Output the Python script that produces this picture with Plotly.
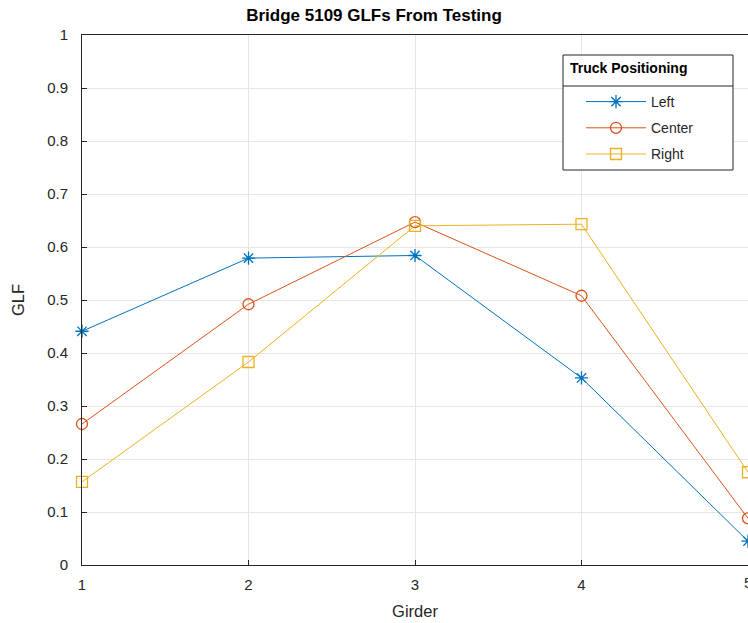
import plotly.graph_objects as go

girders = [1, 2, 3, 4, 5]
left_vals = [0.441, 0.579, 0.584, 0.353, 0.045]
center_vals = [0.266, 0.492, 0.647, 0.508, 0.088]
right_vals = [0.157, 0.383, 0.640, 0.643, 0.175]
series_names = ["Left", "Center", "Right"]
colors = ["#0072BD", "#D95319", "#EDB120"]
symbols = ["asterisk-open", "circle-open", "square-open"]
y_ticks = [0, 0.1, 0.2, 0.3, 0.4, 0.5, 0.6, 0.7, 0.8, 0.9, 1]
y_ticktext = ["0", "0.1", "0.2", "0.3", "0.4", "0.5", "0.6", "0.7", "0.8", "0.9", "1"]

W, H = 748, 623
ML, MR, MT, MB = 82, 0, 35, 58

def px(xp):
    return (xp - ML) / (W - ML - MR)

def py(yp):
    return (H - MB - yp) / (H - MT - MB)

fig = go.Figure()
for name, vals, col, sym in zip(series_names, [left_vals, center_vals, right_vals], colors, symbols):
    fig.add_trace(go.Scatter(
        x=girders, y=vals, name=name, mode="lines+markers", legendgroup=name,
        line=dict(color=col, width=1),
        marker=dict(symbol=sym, size=11, color=col, line=dict(color=col, width=1.3)),
        cliponaxis=False,
    ))

font = "Liberation Sans, Arial, Helvetica, sans-serif"
dark = "#262626"
axis_common = dict(
    showline=True, linecolor=dark, linewidth=1, mirror=True,
    ticks="inside", ticklen=5, tickcolor=dark,
    showgrid=True, gridcolor="#E6E6E6", gridwidth=1,
    zeroline=False, tickfont=dict(size=15, color=dark, family=font),
)

# legend frame
fig.add_shape(type="rect", xref="paper", yref="paper",
              x0=px(563), x1=px(733), y0=py(170), y1=py(55),
              fillcolor="white", line=dict(color=dark, width=1), layer="above")
fig.add_shape(type="line", xref="paper", yref="paper",
              x0=px(563), x1=px(733), y0=py(86), y1=py(86),
              line=dict(color=dark, width=1), layer="above")
fig.add_annotation(text="<b>Truck Positioning</b>", xref="paper", yref="paper",
                   x=px(568), y=py(68), xanchor="left", yanchor="middle", showarrow=False,
                   font=dict(size=14, color="black", family=font))
# partially visible last tick label (cut by the window edge as in the original)
fig.add_annotation(text="5", x=5, y=0, xref="x", yref="y", yshift=-17, yanchor="middle",
                   showarrow=False, font=dict(size=15, color=dark, family=font))

fig.update_layout(
    width=W, height=H,
    margin=dict(l=ML, r=MR, t=MT, b=MB),
    paper_bgcolor="white", plot_bgcolor="white",
    font=dict(family=font, color=dark),
    title=dict(text="<b>Bridge 5109 GLFs From Testing</b>", x=0.5, xanchor="center",
               xref="container", yref="container",
               y=1 - 15 / H, yanchor="middle", font=dict(size=17, color="black", family=font)),
    xaxis=dict(range=[1, 5], tickvals=[1, 2, 3, 4], ticklabelstandoff=6,
               title=dict(text="Girder", font=dict(size=16.5, color=dark), standoff=13),
               **axis_common),
    yaxis=dict(range=[0, 1], tickvals=y_ticks, ticktext=y_ticktext, ticklabelstandoff=10,
               title=dict(text="GLF", font=dict(size=16.5, color=dark), standoff=18),
               **axis_common),
    showlegend=True,
    legend=dict(
        x=px(581), y=py(86), xanchor="left", yanchor="top",
        bgcolor="rgba(0,0,0,0)", borderwidth=0,
        font=dict(size=14, color=dark, family=font),
        itemwidth=60, tracegroupgap=5,
    ),
)

fig.write_html("out.html")
